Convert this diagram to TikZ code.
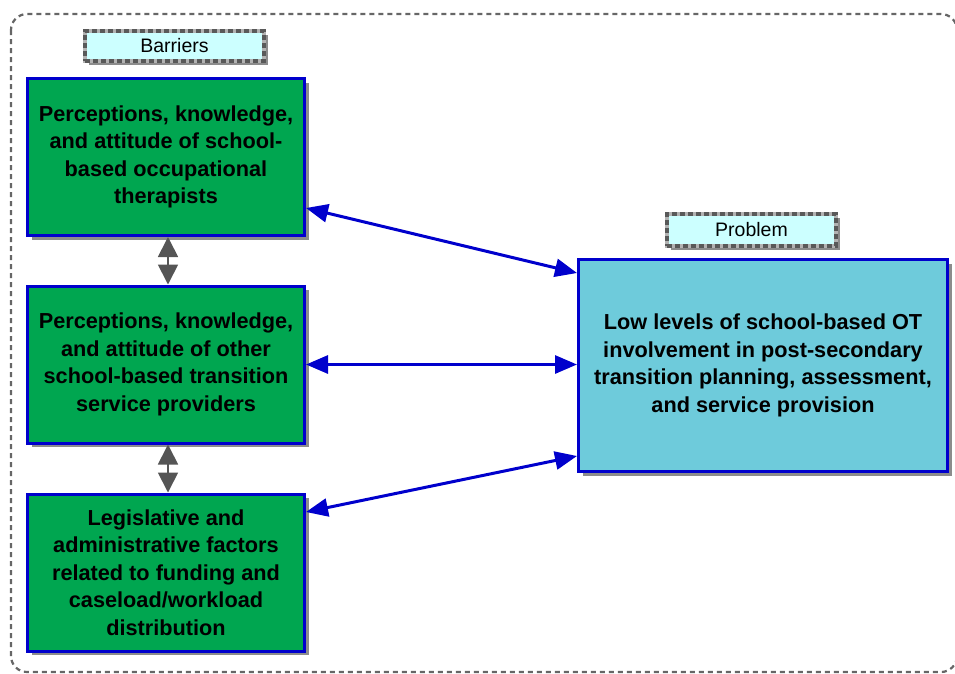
\documentclass[tikz,border=0pt]{standalone}
\usepackage{fontspec}
\setmainfont{Liberation Sans}
\usetikzlibrary{arrows.meta,shadows,calc}
\definecolor{boxgreen}{RGB}{0,166,80}
\definecolor{boxblue}{RGB}{0,0,204}
\definecolor{probfill}{RGB}{110,203,219}
\definecolor{labfill}{RGB}{204,255,255}
\definecolor{arrgray}{RGB}{85,85,85}
\begin{document}
\begin{tikzpicture}[x=1pt,y=-1pt,
  shad/.style={drop shadow={shadow xshift=4pt,shadow yshift=-4pt,fill=black!45,opacity=1}},
  barrier/.style={shad,draw=boxblue,line width=3pt,fill=boxgreen,minimum width=277pt,minimum height=157pt,
    align=center,inner sep=0pt,font=\fontsize{21.7}{27.5}\selectfont\bfseries},
  problem/.style={shad,draw=boxblue,line width=3pt,fill=probfill,minimum width=369pt,minimum height=212pt,
    align=center,inner sep=0pt,font=\fontsize{21.7}{27.5}\selectfont\bfseries},
  tag/.style={shad,fill=labfill,draw=black!30,line width=3.5pt,
    postaction={draw=black!65,line width=3.5pt,dash pattern=on 5pt off 3pt},
    inner sep=0pt,font=\fontsize{19.5}{22}\selectfont},
  link/.style={draw=boxblue,line width=3pt,{Triangle[length=22pt,width=18pt]}-{Triangle[length=22pt,width=18pt]}},
  vlink/.style={draw=arrgray,line width=1.8pt,{Triangle[length=20pt,width=20pt]}-{Triangle[length=20pt,width=20pt]}}
]
\useasboundingbox (0,0) rectangle (955,673);
\clip (0,0) rectangle (955,673);
\draw[black!60,line width=2.2pt,dash pattern=on 5pt off 4pt,rounded corners=16pt] (11,14) rectangle (957,672);

\node[tag,minimum width=179pt,minimum height=30pt] (tb) at (174.5,46) {Barriers};
\node[tag,minimum width=169pt,minimum height=32pt] (tp) at (751.5,230) {Problem};

\node[barrier] (g1) at (166,157) {Perceptions, knowledge,\\and attitude of school-\\based occupational\\therapists};
\node[barrier] (g2) at (166,364.5) {Perceptions, knowledge,\\and attitude of other\\school-based transition\\service providers};
\node[barrier] (g3) at (166,572.5) {Legislative and\\administrative factors\\related to funding and\\caseload/workload\\distribution};

\node[problem] (p) at (763,365.5) {Low levels of school-based OT\\involvement in post-secondary\\transition planning, assessment,\\and service provision};

\draw[link] ([yshift=-51pt]g1.east) -- ([yshift=92.5pt]p.west);
\draw[link] (g2.east) -- (p.west |- g2.east);
\draw[link] ([yshift=60.5pt]g3.east) -- ([yshift=-90.5pt]p.west);

\draw[vlink] ([xshift=2pt]g1.south) -- ([xshift=2pt]g2.north);
\draw[vlink] ([xshift=2pt]g2.south) -- ([xshift=2pt]g3.north);
\end{tikzpicture}
\end{document}
